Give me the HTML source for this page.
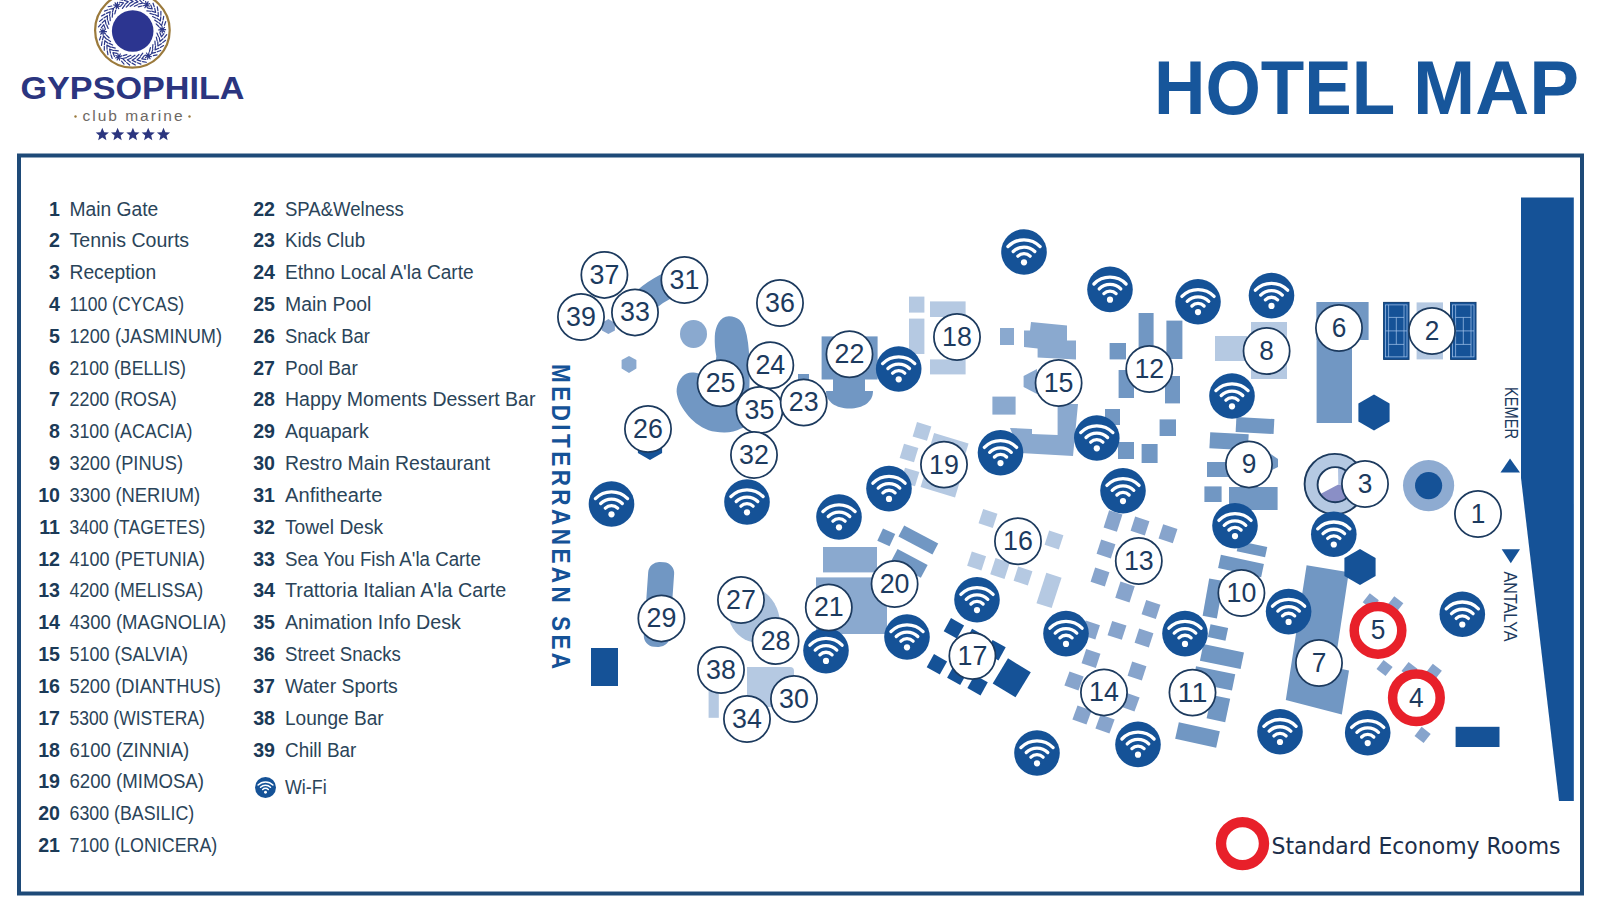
<!DOCTYPE html>
<html lang="en"><head><meta charset="utf-8"><title>Hotel Map - Gypsophila Club Marine</title>
<style>
html,body{margin:0;padding:0;background:#fff;}
body{width:1600px;height:900px;overflow:hidden;position:relative;font-family:"Liberation Sans",sans-serif;}
svg{position:absolute;left:0;top:0;display:block;}
text{font-family:"Liberation Sans",sans-serif;}
.num{font-weight:700;fill:#1b3a57;font-size:19.6px;text-anchor:end;}
.lbl{fill:#2a4459;font-size:19.6px;}
.cn{fill:#1c3a5e;font-size:28.5px;text-anchor:middle;}
</style></head><body>
<svg width="1600" height="900" viewBox="0 0 1600 900">

<defs>
<g id="wifi"><circle r="22.8" fill="#155297"/>
<g fill="none" stroke="#fff" stroke-width="3.3" stroke-linecap="round">
<path d="M-16.1,-5.4 A22.5,22.5 0 0 1 16.1,-5.4"/>
<path d="M-10.8,-0.5 A15.3,15.3 0 0 1 10.8,-0.5"/>
<path d="M-6.1,4.2 A8.6,8.6 0 0 1 6.1,4.2"/>
</g><circle cx="0" cy="10.3" r="3.1" fill="#fff"/></g>
<path id="star" d="M0,-6.7 L1.9,-2.2 6.6,-2 3,1.1 4.1,5.7 0,3.1 -4.1,5.7 -3,1.1 -6.6,-2 -1.9,-2.2Z"/>
</defs>
<g id="logo">
<circle cx="132.4" cy="30.3" r="37.3" fill="#fff" stroke="#9b7a3c" stroke-width="2.2"/>
<g stroke="#2b3788" stroke-width="1.2" fill="none" stroke-linecap="round" stroke-linejoin="round"><g transform="rotate(28.0 132.6 30.8) translate(132.6 1.2)"><path d="M-3.2,0 H3.2 M0,-3.4 V3.4 M-2.3,-2.4 L2.3,2.4 M-2.3,2.4 L2.3,-2.4" stroke-width="1.2"/></g><g transform="rotate(39.0 132.6 30.8) translate(132.6 1.4)"><path d="M-2.1,-2.0 L1.5,0 L-2.1,2.0 M-1.5,-4.9 L1.7,-2.9 M-1.5,4.9 L1.7,2.9"/></g><g transform="rotate(48.5 132.6 30.8) translate(132.6 1.4)"><path d="M-2.1,-2.0 L1.5,0 L-2.1,2.0 M-1.5,-4.9 L1.7,-2.9 M-1.5,4.9 L1.7,2.9"/></g><g transform="rotate(58.0 132.6 30.8) translate(132.6 1.4)"><path d="M-2.1,-2.0 L1.5,0 L-2.1,2.0 M-1.5,-4.9 L1.7,-2.9 M-1.5,4.9 L1.7,2.9"/></g><g transform="rotate(67.5 132.6 30.8) translate(132.6 1.4)"><path d="M-2.1,-2.0 L1.5,0 L-2.1,2.0 M-1.5,-4.9 L1.7,-2.9 M-1.5,4.9 L1.7,2.9"/></g><g transform="rotate(77.0 132.6 30.8) translate(132.6 1.4)"><path d="M-2.1,-2.0 L1.5,0 L-2.1,2.0 M-1.5,-4.9 L1.7,-2.9 M-1.5,4.9 L1.7,2.9"/></g><g transform="rotate(88.0 132.6 30.8) translate(132.6 1.2)"><path d="M-3.2,0 H3.2 M0,-3.4 V3.4 M-2.3,-2.4 L2.3,2.4 M-2.3,2.4 L2.3,-2.4" stroke-width="1.2"/></g><g transform="rotate(99.0 132.6 30.8) translate(132.6 1.4)"><path d="M-2.1,-2.0 L1.5,0 L-2.1,2.0 M-1.5,-4.9 L1.7,-2.9 M-1.5,4.9 L1.7,2.9"/></g><g transform="rotate(108.5 132.6 30.8) translate(132.6 1.4)"><path d="M-2.1,-2.0 L1.5,0 L-2.1,2.0 M-1.5,-4.9 L1.7,-2.9 M-1.5,4.9 L1.7,2.9"/></g><g transform="rotate(118.0 132.6 30.8) translate(132.6 1.4)"><path d="M-2.1,-2.0 L1.5,0 L-2.1,2.0 M-1.5,-4.9 L1.7,-2.9 M-1.5,4.9 L1.7,2.9"/></g><g transform="rotate(127.5 132.6 30.8) translate(132.6 1.4)"><path d="M-2.1,-2.0 L1.5,0 L-2.1,2.0 M-1.5,-4.9 L1.7,-2.9 M-1.5,4.9 L1.7,2.9"/></g><g transform="rotate(137.0 132.6 30.8) translate(132.6 1.4)"><path d="M-2.1,-2.0 L1.5,0 L-2.1,2.0 M-1.5,-4.9 L1.7,-2.9 M-1.5,4.9 L1.7,2.9"/></g><g transform="rotate(148.0 132.6 30.8) translate(132.6 1.2)"><path d="M-3.2,0 H3.2 M0,-3.4 V3.4 M-2.3,-2.4 L2.3,2.4 M-2.3,2.4 L2.3,-2.4" stroke-width="1.2"/></g><g transform="rotate(159.0 132.6 30.8) translate(132.6 1.4)"><path d="M-2.1,-2.0 L1.5,0 L-2.1,2.0 M-1.5,-4.9 L1.7,-2.9 M-1.5,4.9 L1.7,2.9"/></g><g transform="rotate(168.5 132.6 30.8) translate(132.6 1.4)"><path d="M-2.1,-2.0 L1.5,0 L-2.1,2.0 M-1.5,-4.9 L1.7,-2.9 M-1.5,4.9 L1.7,2.9"/></g><g transform="rotate(178.0 132.6 30.8) translate(132.6 1.4)"><path d="M-2.1,-2.0 L1.5,0 L-2.1,2.0 M-1.5,-4.9 L1.7,-2.9 M-1.5,4.9 L1.7,2.9"/></g><g transform="rotate(187.5 132.6 30.8) translate(132.6 1.4)"><path d="M-2.1,-2.0 L1.5,0 L-2.1,2.0 M-1.5,-4.9 L1.7,-2.9 M-1.5,4.9 L1.7,2.9"/></g><g transform="rotate(197.0 132.6 30.8) translate(132.6 1.4)"><path d="M-2.1,-2.0 L1.5,0 L-2.1,2.0 M-1.5,-4.9 L1.7,-2.9 M-1.5,4.9 L1.7,2.9"/></g><g transform="rotate(208.0 132.6 30.8) translate(132.6 1.2)"><path d="M-3.2,0 H3.2 M0,-3.4 V3.4 M-2.3,-2.4 L2.3,2.4 M-2.3,2.4 L2.3,-2.4" stroke-width="1.2"/></g><g transform="rotate(219.0 132.6 30.8) translate(132.6 1.4)"><path d="M-2.1,-2.0 L1.5,0 L-2.1,2.0 M-1.5,-4.9 L1.7,-2.9 M-1.5,4.9 L1.7,2.9"/></g><g transform="rotate(228.5 132.6 30.8) translate(132.6 1.4)"><path d="M-2.1,-2.0 L1.5,0 L-2.1,2.0 M-1.5,-4.9 L1.7,-2.9 M-1.5,4.9 L1.7,2.9"/></g><g transform="rotate(238.0 132.6 30.8) translate(132.6 1.4)"><path d="M-2.1,-2.0 L1.5,0 L-2.1,2.0 M-1.5,-4.9 L1.7,-2.9 M-1.5,4.9 L1.7,2.9"/></g><g transform="rotate(247.5 132.6 30.8) translate(132.6 1.4)"><path d="M-2.1,-2.0 L1.5,0 L-2.1,2.0 M-1.5,-4.9 L1.7,-2.9 M-1.5,4.9 L1.7,2.9"/></g><g transform="rotate(257.0 132.6 30.8) translate(132.6 1.4)"><path d="M-2.1,-2.0 L1.5,0 L-2.1,2.0 M-1.5,-4.9 L1.7,-2.9 M-1.5,4.9 L1.7,2.9"/></g><g transform="rotate(268.0 132.6 30.8) translate(132.6 1.2)"><path d="M-3.2,0 H3.2 M0,-3.4 V3.4 M-2.3,-2.4 L2.3,2.4 M-2.3,2.4 L2.3,-2.4" stroke-width="1.2"/></g><g transform="rotate(279.0 132.6 30.8) translate(132.6 1.4)"><path d="M-2.1,-2.0 L1.5,0 L-2.1,2.0 M-1.5,-4.9 L1.7,-2.9 M-1.5,4.9 L1.7,2.9"/></g><g transform="rotate(288.5 132.6 30.8) translate(132.6 1.4)"><path d="M-2.1,-2.0 L1.5,0 L-2.1,2.0 M-1.5,-4.9 L1.7,-2.9 M-1.5,4.9 L1.7,2.9"/></g><g transform="rotate(298.0 132.6 30.8) translate(132.6 1.4)"><path d="M-2.1,-2.0 L1.5,0 L-2.1,2.0 M-1.5,-4.9 L1.7,-2.9 M-1.5,4.9 L1.7,2.9"/></g><g transform="rotate(307.5 132.6 30.8) translate(132.6 1.4)"><path d="M-2.1,-2.0 L1.5,0 L-2.1,2.0 M-1.5,-4.9 L1.7,-2.9 M-1.5,4.9 L1.7,2.9"/></g><g transform="rotate(317.0 132.6 30.8) translate(132.6 1.4)"><path d="M-2.1,-2.0 L1.5,0 L-2.1,2.0 M-1.5,-4.9 L1.7,-2.9 M-1.5,4.9 L1.7,2.9"/></g><g transform="rotate(328.0 132.6 30.8) translate(132.6 1.2)"><path d="M-3.2,0 H3.2 M0,-3.4 V3.4 M-2.3,-2.4 L2.3,2.4 M-2.3,2.4 L2.3,-2.4" stroke-width="1.2"/></g><g transform="rotate(339.0 132.6 30.8) translate(132.6 1.4)"><path d="M-2.1,-2.0 L1.5,0 L-2.1,2.0 M-1.5,-4.9 L1.7,-2.9 M-1.5,4.9 L1.7,2.9"/></g><g transform="rotate(348.5 132.6 30.8) translate(132.6 1.4)"><path d="M-2.1,-2.0 L1.5,0 L-2.1,2.0 M-1.5,-4.9 L1.7,-2.9 M-1.5,4.9 L1.7,2.9"/></g><g transform="rotate(358.0 132.6 30.8) translate(132.6 1.4)"><path d="M-2.1,-2.0 L1.5,0 L-2.1,2.0 M-1.5,-4.9 L1.7,-2.9 M-1.5,4.9 L1.7,2.9"/></g><g transform="rotate(367.5 132.6 30.8) translate(132.6 1.4)"><path d="M-2.1,-2.0 L1.5,0 L-2.1,2.0 M-1.5,-4.9 L1.7,-2.9 M-1.5,4.9 L1.7,2.9"/></g><g transform="rotate(377.0 132.6 30.8) translate(132.6 1.4)"><path d="M-2.1,-2.0 L1.5,0 L-2.1,2.0 M-1.5,-4.9 L1.7,-2.9 M-1.5,4.9 L1.7,2.9"/></g></g>
<circle cx="132.7" cy="31" r="20.8" fill="#2c3590"/>
<text x="132.5" y="98.8" text-anchor="middle" font-size="31" font-weight="700" fill="#2b357f" textLength="224" lengthAdjust="spacingAndGlyphs">GYPSOPHILA</text>
<text x="132.5" y="121" text-anchor="middle" font-size="15.5" fill="#6d6863" textLength="100" lengthAdjust="spacing">club marine</text>
<circle cx="75.5" cy="116.5" r="1.2" fill="#9b7a3c"/><circle cx="189.5" cy="116.5" r="1.2" fill="#9b7a3c"/>
<use href="#star" x="102.3" y="134.5" fill="#2b357f"/>
<use href="#star" x="117.6" y="134.5" fill="#2b357f"/>
<use href="#star" x="132.9" y="134.5" fill="#2b357f"/>
<use href="#star" x="148.2" y="134.5" fill="#2b357f"/>
<use href="#star" x="163.5" y="134.5" fill="#2b357f"/>
</g>
<text y="114" font-size="76.5" font-weight="700" fill="#17569b"><tspan x="1154" textLength="240" lengthAdjust="spacingAndGlyphs">HOTEL</tspan> <tspan x="1413" textLength="166" lengthAdjust="spacingAndGlyphs">MAP</tspan></text>
<rect x="19" y="155.5" width="1563" height="738" fill="none" stroke="#1e4a78" stroke-width="4"/>
<g id="legend">
<text class="num" x="60" y="215.5">1</text><text class="lbl" x="69.5" y="215.5" textLength="88.8" lengthAdjust="spacingAndGlyphs">Main Gate</text>
<text class="num" x="60" y="247.3">2</text><text class="lbl" x="69.5" y="247.3" textLength="119.6" lengthAdjust="spacingAndGlyphs">Tennis Courts</text>
<text class="num" x="60" y="279.1">3</text><text class="lbl" x="69.5" y="279.1" textLength="86.7" lengthAdjust="spacingAndGlyphs">Reception</text>
<text class="num" x="60" y="311.0">4</text><text class="lbl" x="69.5" y="311.0" textLength="114.7" lengthAdjust="spacingAndGlyphs">1100 (CYCAS)</text>
<text class="num" x="60" y="342.8">5</text><text class="lbl" x="69.5" y="342.8" textLength="152.5" lengthAdjust="spacingAndGlyphs">1200 (JASMINUM)</text>
<text class="num" x="60" y="374.6">6</text><text class="lbl" x="69.5" y="374.6" textLength="116.4" lengthAdjust="spacingAndGlyphs">2100 (BELLIS)</text>
<text class="num" x="60" y="406.4">7</text><text class="lbl" x="69.5" y="406.4" textLength="107.3" lengthAdjust="spacingAndGlyphs">2200 (ROSA)</text>
<text class="num" x="60" y="438.3">8</text><text class="lbl" x="69.5" y="438.3" textLength="122.9" lengthAdjust="spacingAndGlyphs">3100 (ACACIA)</text>
<text class="num" x="60" y="470.1">9</text><text class="lbl" x="69.5" y="470.1" textLength="113.5" lengthAdjust="spacingAndGlyphs">3200 (PINUS)</text>
<text class="num" x="60" y="501.9">10</text><text class="lbl" x="69.5" y="501.9" textLength="130.7" lengthAdjust="spacingAndGlyphs">3300 (NERIUM)</text>
<text class="num" x="60" y="533.8">11</text><text class="lbl" x="69.5" y="533.8" textLength="135.8" lengthAdjust="spacingAndGlyphs">3400 (TAGETES)</text>
<text class="num" x="60" y="565.6">12</text><text class="lbl" x="69.5" y="565.6" textLength="135.4" lengthAdjust="spacingAndGlyphs">4100 (PETUNIA)</text>
<text class="num" x="60" y="597.4">13</text><text class="lbl" x="69.5" y="597.4" textLength="133.6" lengthAdjust="spacingAndGlyphs">4200 (MELISSA)</text>
<text class="num" x="60" y="629.2">14</text><text class="lbl" x="69.5" y="629.2" textLength="156.7" lengthAdjust="spacingAndGlyphs">4300 (MAGNOLIA)</text>
<text class="num" x="60" y="661.0">15</text><text class="lbl" x="69.5" y="661.0" textLength="118.5" lengthAdjust="spacingAndGlyphs">5100 (SALVIA)</text>
<text class="num" x="60" y="692.9">16</text><text class="lbl" x="69.5" y="692.9" textLength="151.4" lengthAdjust="spacingAndGlyphs">5200 (DIANTHUS)</text>
<text class="num" x="60" y="724.7">17</text><text class="lbl" x="69.5" y="724.7" textLength="135.4" lengthAdjust="spacingAndGlyphs">5300 (WISTERA)</text>
<text class="num" x="60" y="756.5">18</text><text class="lbl" x="69.5" y="756.5" textLength="119.8" lengthAdjust="spacingAndGlyphs">6100 (ZINNIA)</text>
<text class="num" x="60" y="788.4">19</text><text class="lbl" x="69.5" y="788.4" textLength="134.5" lengthAdjust="spacingAndGlyphs">6200 (MIMOSA)</text>
<text class="num" x="60" y="820.2">20</text><text class="lbl" x="69.5" y="820.2" textLength="124.7" lengthAdjust="spacingAndGlyphs">6300 (BASILIC)</text>
<text class="num" x="60" y="852.0">21</text><text class="lbl" x="69.5" y="852.0" textLength="147.8" lengthAdjust="spacingAndGlyphs">7100 (LONICERA)</text>
<text class="num" x="275" y="215.5">22</text><text class="lbl" x="285" y="215.5" textLength="118.8" lengthAdjust="spacingAndGlyphs">SPA&amp;Welness</text>
<text class="num" x="275" y="247.3">23</text><text class="lbl" x="285" y="247.3" textLength="80.1" lengthAdjust="spacingAndGlyphs">Kids Club</text>
<text class="num" x="275" y="279.1">24</text><text class="lbl" x="285" y="279.1" textLength="188.7" lengthAdjust="spacingAndGlyphs">Ethno Local A'la Carte</text>
<text class="num" x="275" y="311.0">25</text><text class="lbl" x="285" y="311.0" textLength="86.3" lengthAdjust="spacingAndGlyphs">Main Pool</text>
<text class="num" x="275" y="342.8">26</text><text class="lbl" x="285" y="342.8" textLength="85.0" lengthAdjust="spacingAndGlyphs">Snack Bar</text>
<text class="num" x="275" y="374.6">27</text><text class="lbl" x="285" y="374.6" textLength="72.7" lengthAdjust="spacingAndGlyphs">Pool Bar</text>
<text class="num" x="275" y="406.4">28</text><text class="lbl" x="285" y="406.4" textLength="250.4" lengthAdjust="spacingAndGlyphs">Happy Moments Dessert Bar</text>
<text class="num" x="275" y="438.3">29</text><text class="lbl" x="285" y="438.3" textLength="83.8" lengthAdjust="spacingAndGlyphs">Aquapark</text>
<text class="num" x="275" y="470.1">30</text><text class="lbl" x="285" y="470.1" textLength="205.1" lengthAdjust="spacingAndGlyphs">Restro Main Restaurant</text>
<text class="num" x="275" y="501.9">31</text><text class="lbl" x="285" y="501.9" textLength="97.4" lengthAdjust="spacingAndGlyphs">Anfithearte</text>
<text class="num" x="275" y="533.8">32</text><text class="lbl" x="285" y="533.8" textLength="98.1" lengthAdjust="spacingAndGlyphs">Towel Desk</text>
<text class="num" x="275" y="565.6">33</text><text class="lbl" x="285" y="565.6" textLength="195.9" lengthAdjust="spacingAndGlyphs">Sea You Fish A'la Carte</text>
<text class="num" x="275" y="597.4">34</text><text class="lbl" x="285" y="597.4" textLength="221.2" lengthAdjust="spacingAndGlyphs">Trattoria Italian A'la Carte</text>
<text class="num" x="275" y="629.2">35</text><text class="lbl" x="285" y="629.2" textLength="175.9" lengthAdjust="spacingAndGlyphs">Animation Info Desk</text>
<text class="num" x="275" y="661.0">36</text><text class="lbl" x="285" y="661.0" textLength="115.9" lengthAdjust="spacingAndGlyphs">Street Snacks</text>
<text class="num" x="275" y="692.9">37</text><text class="lbl" x="285" y="692.9" textLength="112.8" lengthAdjust="spacingAndGlyphs">Water Sports</text>
<text class="num" x="275" y="724.7">38</text><text class="lbl" x="285" y="724.7" textLength="98.6" lengthAdjust="spacingAndGlyphs">Lounge Bar</text>
<text class="num" x="275" y="756.5">39</text><text class="lbl" x="285" y="756.5" textLength="71.4" lengthAdjust="spacingAndGlyphs">Chill Bar</text>
<use href="#wifi" transform="translate(265.5,787.5) scale(0.46)"/>
<text class="lbl" x="285" y="794" textLength="41.7" lengthAdjust="spacingAndGlyphs">Wi-Fi</text>
</g>
<g id="map">
<path d="M638,308 Q652,291 680,280" fill="none" stroke="#7197c3" stroke-width="26" stroke-linecap="butt"/>
<polygon points="608.4,319.1 601.9,322.9 601.9,330.4 608.4,334.1 614.9,330.4 614.9,322.9" fill="#87a4cc"/>
<polygon points="629.0,355.9 621.6,360.1 621.6,368.6 629.0,372.9 636.4,368.6 636.4,360.1" fill="#8aa9cf"/>
<ellipse cx="693.5" cy="334" rx="13.5" ry="14" fill="#8aa9cf"/>
<path d="M728.8,316.2 C737,316 742.5,321 744.8,328 C747.8,337 749,348 749.3,360 C749.6,372 749.8,380 749.3,390 L749,415 C748,424 744,428 741,428.5 C736,431.5 730,432.6 724,432.5 C718,432.3 713,431.5 708.5,430.2 C704,428.5 700,426 696,423.2 C692,420 689,417 686.8,414 C683,409 680.5,405 679,401.4 C677,396 676.3,392 676.7,389 C677,386 677.8,383.5 679,381.2 C681,377.5 683.5,375 686.8,373.4 C690,372 695,372.3 698.4,373.4 L714,381 L716.3,356.3 C715,350 714.5,343 714.8,336.1 C715.3,326 720,316.5 728.8,316.2 Z" fill="#7197c3"/>
<rect x="821.6" y="336.4" width="56.0" height="43.1" fill="#7197c3"/>
<rect x="833.0" y="379.0" width="32.0" height="13.0" fill="#7197c3"/>
<path d="M826,391 L873,391 C873,402 863,408.5 849.5,408.5 C836,408.5 826,402 826,391 Z" fill="#7197c3"/>
<rect x="798.0" y="374.0" width="11.0" height="6.5" fill="#7197c3"/>
<polygon points="650.0,432.0 637.9,439.0 637.9,453.0 650.0,460.0 662.1,453.0 662.1,439.0" fill="#155297"/>
<rect x="591.0" y="648.0" width="27.0" height="38.0" fill="#155297"/>
<rect x="646" y="562" width="26" height="85" rx="11" ry="11" fill="#7197c3" transform="rotate(4 659 604)"/>
<path d="M758,588 C770,594 779,606 780,622 L776,645 L752,642 C742,640 733,632 729,620 Z" fill="#a9c0dc"/>
<path d="M747,667 L790,667 Q794,667 794,671 L794,707 L747,707 Z" fill="#b5c9e2"/>
<rect x="708.6" y="690.0" width="10.2" height="27.8" fill="#b5c9e2"/>
<rect x="823.0" y="547.0" width="54.0" height="25.4" fill="#8aa9cf"/>
<rect x="816.0" y="577.4" width="71.0" height="56.6" fill="#8aa9cf"/>
<rect x="879.5" y="530.6" width="13.5" height="13.5" fill="#7197c3" transform="rotate(25.0 886.2 537.4)"/>
<rect x="899.1" y="533.9" width="38.5" height="12.3" fill="#7197c3" transform="rotate(27.9 918.4 540.0)"/>
<rect x="892.2" y="556.1" width="34.0" height="14.5" fill="#7197c3" transform="rotate(27.9 909.2 563.4)"/>
<rect x="909.0" y="296.6" width="15.4" height="16.0" fill="#b5c9e2"/>
<rect x="930.0" y="301.4" width="35.6" height="15.6" fill="#b5c9e2"/>
<rect x="909.0" y="318.6" width="15.4" height="35.4" fill="#b5c9e2"/>
<rect x="930.0" y="359.4" width="35.6" height="15.0" fill="#b5c9e2"/>
<rect x="1000.0" y="328.0" width="14.0" height="17.0" fill="#8aa9cf"/>
<polygon points="1031.0,322.0 1067.0,325.6 1067.0,340.4 1076.0,340.4 1076.0,359.4 1037.6,357.4 1037.6,348.6 1024.0,347.0 1024.0,330.6 1030.0,330.6" fill="#8aa9cf"/>
<polygon points="1037.0,369.0 1023.6,376.0 1023.6,387.0 1037.0,394.0" fill="#8aa9cf"/>
<rect x="992.4" y="396.6" width="23.2" height="18.0" fill="#8aa9cf"/>
<polygon points="1057.6,404.0 1078.0,404.0 1073.0,456.0 1020.0,453.0 1010.0,428.0 1032.0,429.0 1032.0,434.0 1057.6,435.0" fill="#8aa9cf"/>
<rect x="1138.6" y="313.0" width="15.0" height="36.0" fill="#7197c3"/>
<rect x="1166.4" y="320.6" width="16.0" height="38.4" fill="#7197c3"/>
<rect x="1109.6" y="343.0" width="16.4" height="16.4" fill="#7197c3"/>
<rect x="1118.6" y="370.0" width="15.4" height="28.0" fill="#7197c3"/>
<rect x="1165.0" y="376.0" width="15.0" height="27.4" fill="#7197c3"/>
<rect x="1105.0" y="409.0" width="15.0" height="16.0" fill="#7197c3"/>
<rect x="1159.6" y="419.4" width="16.4" height="16.6" fill="#7197c3"/>
<rect x="1118.0" y="442.0" width="16.0" height="17.0" fill="#7197c3"/>
<rect x="1141.6" y="444.0" width="16.0" height="19.0" fill="#7197c3"/>
<rect x="1215.0" y="336.0" width="32.0" height="25.0" fill="#b5c9e2"/>
<rect x="1251.0" y="322.0" width="36.0" height="57.0" fill="#b5c9e2"/>
<rect x="914.5" y="423.9" width="15.0" height="15.0" fill="#b5c9e2" transform="rotate(17.0 922.0 431.4)"/>
<rect x="901.5" y="445.5" width="15.0" height="15.0" fill="#b5c9e2" transform="rotate(17.0 909.0 453.0)"/>
<rect x="931.0" y="438.0" width="36.0" height="16.0" fill="#b5c9e2" transform="rotate(17.0 949.0 446.0)"/>
<rect x="902.5" y="469.5" width="15.0" height="15.0" fill="#b5c9e2" transform="rotate(17.0 910.0 477.0)"/>
<rect x="922.0" y="477.5" width="36.0" height="15.0" fill="#b5c9e2" transform="rotate(17.0 940.0 485.0)"/>
<rect x="980.5" y="511.0" width="15.0" height="15.0" fill="#b5c9e2" transform="rotate(18.0 988.0 518.5)"/>
<rect x="1046.5" y="532.5" width="15.0" height="15.0" fill="#b5c9e2" transform="rotate(18.0 1054.0 540.0)"/>
<rect x="969.1" y="553.5" width="15.0" height="15.0" fill="#b5c9e2" transform="rotate(18.0 976.6 561.0)"/>
<rect x="992.5" y="560.0" width="15.0" height="17.0" fill="#b5c9e2" transform="rotate(18.0 1000.0 568.5)"/>
<rect x="1015.5" y="568.5" width="15.0" height="15.0" fill="#b5c9e2" transform="rotate(18.0 1023.0 576.0)"/>
<rect x="1041.0" y="574.4" width="16.0" height="32.0" fill="#b5c9e2" transform="rotate(18.0 1049.0 590.4)"/>
<rect x="946.4" y="620.8" width="15.0" height="15.0" fill="#155297" transform="rotate(29.0 953.9 628.3)"/>
<rect x="967.5" y="631.5" width="15.0" height="15.0" fill="#155297" transform="rotate(29.0 975.0 639.0)"/>
<rect x="988.0" y="642.7" width="15.0" height="15.0" fill="#155297" transform="rotate(29.0 995.5 650.2)"/>
<rect x="929.4" y="656.8" width="15.0" height="15.0" fill="#155297" transform="rotate(29.0 936.9 664.3)"/>
<rect x="949.8" y="667.4" width="15.0" height="15.0" fill="#155297" transform="rotate(29.0 957.3 674.9)"/>
<rect x="970.1" y="677.7" width="15.0" height="15.0" fill="#155297" transform="rotate(29.0 977.6 685.2)"/>
<rect x="998.4" y="663.1" width="26.7" height="29.4" fill="#155297" transform="rotate(31.4 1011.7 677.8)"/>
<rect x="1106.0" y="512.0" width="14.0" height="18.0" fill="#87a4cc" transform="rotate(18.0 1113.0 521.0)"/>
<rect x="1132.5" y="518.5" width="15.0" height="15.0" fill="#87a4cc" transform="rotate(18.0 1140.0 526.0)"/>
<rect x="1160.5" y="526.3" width="15.0" height="15.0" fill="#87a4cc" transform="rotate(18.0 1168.0 533.8)"/>
<rect x="1098.5" y="541.5" width="15.0" height="15.0" fill="#87a4cc" transform="rotate(18.0 1106.0 549.0)"/>
<rect x="1092.5" y="569.5" width="15.0" height="15.0" fill="#87a4cc" transform="rotate(18.0 1100.0 577.0)"/>
<rect x="1117.5" y="583.5" width="15.0" height="17.0" fill="#87a4cc" transform="rotate(18.0 1125.0 592.0)"/>
<rect x="1143.5" y="602.0" width="15.0" height="15.0" fill="#87a4cc" transform="rotate(18.0 1151.0 609.5)"/>
<rect x="1109.5" y="622.9" width="15.0" height="15.0" fill="#87a4cc" transform="rotate(18.0 1117.0 630.4)"/>
<rect x="1136.5" y="630.5" width="15.0" height="15.0" fill="#87a4cc" transform="rotate(18.0 1144.0 638.0)"/>
<rect x="1083.0" y="622.5" width="15.0" height="15.0" fill="#87a4cc" transform="rotate(18.0 1090.5 630.0)"/>
<rect x="1083.5" y="651.0" width="15.0" height="15.0" fill="#87a4cc" transform="rotate(18.0 1091.0 658.5)"/>
<rect x="1129.5" y="663.5" width="15.0" height="15.0" fill="#87a4cc" transform="rotate(18.0 1137.0 671.0)"/>
<rect x="1066.5" y="673.5" width="15.0" height="15.0" fill="#87a4cc" transform="rotate(20.0 1074.0 681.0)"/>
<rect x="1122.5" y="694.5" width="15.0" height="15.0" fill="#87a4cc" transform="rotate(20.0 1130.0 702.0)"/>
<rect x="1074.5" y="707.5" width="15.0" height="15.0" fill="#87a4cc" transform="rotate(20.0 1082.0 715.0)"/>
<rect x="1097.5" y="716.5" width="15.0" height="15.0" fill="#87a4cc" transform="rotate(20.0 1105.0 724.0)"/>
<rect x="1236.0" y="418.0" width="38.0" height="15.0" fill="#7197c3" transform="rotate(3.0 1255.0 425.5)"/>
<rect x="1209.8" y="433.3" width="38.5" height="16.0" fill="#7197c3" transform="rotate(3.0 1229.0 441.3)"/>
<rect x="1207.0" y="462.0" width="25.0" height="15.0" fill="#7197c3"/>
<polygon points="1262.0,452.5 1270.0,453.5 1278.0,459.0 1278.0,467.0 1272.0,470.0 1262.0,470.0" fill="#7197c3"/>
<rect x="1204.4" y="486.4" width="17.2" height="15.6" fill="#7197c3"/>
<rect x="1229.0" y="487.0" width="48.6" height="23.0" fill="#7197c3"/>
<rect x="1237.5" y="543.8" width="29.0" height="10.5" fill="#7197c3" transform="rotate(12.0 1252.0 549.0)"/>
<rect x="1219.0" y="559.2" width="44.0" height="13.5" fill="#7197c3" transform="rotate(12.0 1241.0 566.0)"/>
<rect x="1205.8" y="579.4" width="14.5" height="38.0" fill="#7197c3" transform="rotate(10.0 1213.0 598.4)"/>
<rect x="1209.0" y="625.9" width="18.0" height="13.0" fill="#7197c3" transform="rotate(12.0 1218.0 632.4)"/>
<rect x="1201.2" y="648.1" width="41.5" height="17.0" fill="#7197c3" transform="rotate(11.5 1222.0 656.6)"/>
<rect x="1194.0" y="670.1" width="40.0" height="16.5" fill="#7197c3" transform="rotate(11.5 1214.0 678.4)"/>
<rect x="1208.9" y="696.6" width="19.0" height="24.0" fill="#7197c3" transform="rotate(12.0 1218.4 708.6)"/>
<rect x="1176.5" y="726.5" width="42.0" height="17.0" fill="#7197c3" transform="rotate(12.5 1197.5 735.0)"/>
<polygon points="1306.6,565.3 1348.8,572.3 1334.4,667.6 1349.0,670.4 1341.8,714.4 1285.8,700.0" fill="#7197c3"/>
<rect x="1316.6" y="302.0" width="52.0" height="38.0" fill="#7197c3"/>
<rect x="1316.6" y="302.0" width="35.4" height="121.0" fill="#7197c3"/>
<polygon points="1374.0,394.4 1358.4,403.4 1358.4,421.4 1374.0,430.4 1389.6,421.4 1389.6,403.4" fill="#155297"/>
<polygon points="1360.0,549.0 1344.4,558.0 1344.4,576.0 1360.0,585.0 1375.6,576.0 1375.6,558.0" fill="#155297"/>
<g><rect x="1383.6" y="302.4" width="25.4" height="57.0" fill="#155297" stroke="#123f73" stroke-width="1"/><rect x="1385.6" y="304.9" width="21.4" height="52.0" stroke="#a9c7ee" stroke-width="0.7" fill="none"/><path d="M1388.6,304.9 v52.0 M1404.0,304.9 v52.0 M1385.6,330.9 h21.4 M1388.6,317.4 h15.4 M1388.6,344.4 h15.4 M1396.3,317.4 v27.0" stroke="#a9c7ee" stroke-width="0.7" fill="none"/></g>
<g><rect x="1450.6" y="302.4" width="25.4" height="57.0" fill="#155297" stroke="#123f73" stroke-width="1"/><rect x="1452.6" y="304.9" width="21.4" height="52.0" stroke="#a9c7ee" stroke-width="0.7" fill="none"/><path d="M1455.6,304.9 v52.0 M1471.0,304.9 v52.0 M1452.6,330.9 h21.4 M1455.6,317.4 h15.4 M1455.6,344.4 h15.4 M1463.3,317.4 v27.0" stroke="#a9c7ee" stroke-width="0.7" fill="none"/></g>
<rect x="1416.6" y="302.4" width="26.4" height="57.0" fill="#b5c9e2"/>
<circle cx="1334.8" cy="484.1" r="30.2" fill="#b5c9e2" stroke="#1c3a5e" stroke-width="1.9"/>
<circle cx="1335.2" cy="484.7" r="17.6" fill="#fff"/>
<path d="M1338.3,484.6 L1320.34,494.12 A17.6,17.6 0 0 0 1352.53,487.76 Z" fill="#8a8fc6"/>
<path d="M1338.3,484.6 L1338,467.32 A17.6,17.6 0 0 1 1352.53,487.76 Z" fill="#b0c3e2"/>
<circle cx="1335.2" cy="484.7" r="17.6" fill="none" stroke="#1c3a5e" stroke-width="1.9"/>
<circle cx="1428.6" cy="485.6" r="25.6" fill="#8eabd1"/>
<circle cx="1428.6" cy="485.6" r="13.6" fill="#155297"/>
<rect x="1365.0" y="595.5" width="11.5" height="11.5" fill="#87a4cc" transform="rotate(38.0 1370.7 601.3)"/>
<rect x="1389.5" y="598.5" width="11.5" height="11.5" fill="#87a4cc" transform="rotate(38.0 1395.3 604.3)"/>
<rect x="1378.8" y="662.2" width="11.5" height="11.5" fill="#87a4cc" transform="rotate(38.0 1384.5 668.0)"/>
<rect x="1403.8" y="664.2" width="11.5" height="11.5" fill="#87a4cc" transform="rotate(38.0 1409.5 670.0)"/>
<rect x="1428.0" y="666.0" width="11.5" height="11.5" fill="#87a4cc" transform="rotate(38.0 1433.8 671.8)"/>
<rect x="1416.8" y="729.2" width="11.5" height="11.5" fill="#87a4cc" transform="rotate(38.0 1422.6 735.0)"/>
<rect x="1455.6" y="726.8" width="43.9" height="20.2" fill="#155297"/>
<polygon points="1521.0,197.5 1573.8,197.5 1573.8,801.0 1559.0,801.0 1521.0,478.0" fill="#155297"/>
<polygon points="1510.0,458.5 1500.5,472.5 1520.0,472.5" fill="#155297"/>
<polygon points="1501.7,549.3 1520.0,549.3 1510.8,563.3" fill="#155297"/>
<g id="wifi-points">
<use href="#wifi" x="1024.0" y="252.0"/>
<use href="#wifi" x="1110.0" y="289.4"/>
<use href="#wifi" x="1198.0" y="301.8"/>
<use href="#wifi" x="1271.5" y="295.6"/>
<use href="#wifi" x="898.7" y="369.0"/>
<use href="#wifi" x="1232.0" y="396.0"/>
<use href="#wifi" x="1000.5" y="452.8"/>
<use href="#wifi" x="1096.8" y="438.0"/>
<use href="#wifi" x="889.0" y="488.6"/>
<use href="#wifi" x="1123.0" y="490.8"/>
<use href="#wifi" x="611.5" y="504.0"/>
<use href="#wifi" x="747.0" y="502.0"/>
<use href="#wifi" x="839.0" y="517.0"/>
<use href="#wifi" x="1235.0" y="525.8"/>
<use href="#wifi" x="1333.8" y="534.2"/>
<use href="#wifi" x="977.0" y="599.8"/>
<use href="#wifi" x="1288.6" y="611.6"/>
<use href="#wifi" x="1462.3" y="614.2"/>
<use href="#wifi" x="907.0" y="637.0"/>
<use href="#wifi" x="1066.0" y="633.6"/>
<use href="#wifi" x="1185.0" y="633.6"/>
<use href="#wifi" x="826.0" y="650.6"/>
<use href="#wifi" x="1037.0" y="753.0"/>
<use href="#wifi" x="1138.0" y="744.4"/>
<use href="#wifi" x="1280.0" y="731.7"/>
<use href="#wifi" x="1367.7" y="732.8"/>
</g>
<g id="numbers">
<circle cx="604.4" cy="274.9" r="23.1" fill="#fff" stroke="#1c3a5e" stroke-width="1.75"/><text class="cn" x="604.4" y="283.8" textLength="29.8" lengthAdjust="spacingAndGlyphs">37</text>
<circle cx="684.4" cy="280.0" r="23.1" fill="#fff" stroke="#1c3a5e" stroke-width="1.75"/><text class="cn" x="684.4" y="288.9" textLength="29.8" lengthAdjust="spacingAndGlyphs">31</text>
<circle cx="581.0" cy="317.0" r="23.1" fill="#fff" stroke="#1c3a5e" stroke-width="1.75"/><text class="cn" x="581.0" y="325.9" textLength="29.8" lengthAdjust="spacingAndGlyphs">39</text>
<circle cx="635.0" cy="312.4" r="23.1" fill="#fff" stroke="#1c3a5e" stroke-width="1.75"/><text class="cn" x="635.0" y="321.3" textLength="29.8" lengthAdjust="spacingAndGlyphs">33</text>
<circle cx="780.0" cy="303.0" r="23.1" fill="#fff" stroke="#1c3a5e" stroke-width="1.75"/><text class="cn" x="780.0" y="311.9" textLength="29.8" lengthAdjust="spacingAndGlyphs">36</text>
<circle cx="849.5" cy="354.2" r="23.1" fill="#fff" stroke="#1c3a5e" stroke-width="1.75"/><text class="cn" x="849.5" y="363.1" textLength="29.8" lengthAdjust="spacingAndGlyphs">22</text>
<circle cx="770.3" cy="365.2" r="23.1" fill="#fff" stroke="#1c3a5e" stroke-width="1.75"/><text class="cn" x="770.3" y="374.1" textLength="29.8" lengthAdjust="spacingAndGlyphs">24</text>
<circle cx="720.6" cy="383.2" r="23.1" fill="#fff" stroke="#1c3a5e" stroke-width="1.75"/><text class="cn" x="720.6" y="392.1" textLength="29.8" lengthAdjust="spacingAndGlyphs">25</text>
<circle cx="759.5" cy="410.0" r="23.1" fill="#fff" stroke="#1c3a5e" stroke-width="1.75"/><text class="cn" x="759.5" y="418.9" textLength="29.8" lengthAdjust="spacingAndGlyphs">35</text>
<circle cx="803.7" cy="402.5" r="23.1" fill="#fff" stroke="#1c3a5e" stroke-width="1.75"/><text class="cn" x="803.7" y="411.4" textLength="29.8" lengthAdjust="spacingAndGlyphs">23</text>
<circle cx="648.0" cy="429.0" r="23.1" fill="#fff" stroke="#1c3a5e" stroke-width="1.75"/><text class="cn" x="648.0" y="437.9" textLength="29.8" lengthAdjust="spacingAndGlyphs">26</text>
<circle cx="754.0" cy="455.0" r="23.1" fill="#fff" stroke="#1c3a5e" stroke-width="1.75"/><text class="cn" x="754.0" y="463.9" textLength="29.8" lengthAdjust="spacingAndGlyphs">32</text>
<circle cx="661.4" cy="618.4" r="23.1" fill="#fff" stroke="#1c3a5e" stroke-width="1.75"/><text class="cn" x="661.4" y="627.3" textLength="29.8" lengthAdjust="spacingAndGlyphs">29</text>
<circle cx="741.0" cy="600.0" r="23.1" fill="#fff" stroke="#1c3a5e" stroke-width="1.75"/><text class="cn" x="741.0" y="608.9" textLength="29.8" lengthAdjust="spacingAndGlyphs">27</text>
<circle cx="828.8" cy="607.5" r="23.1" fill="#fff" stroke="#1c3a5e" stroke-width="1.75"/><text class="cn" x="828.8" y="616.4" textLength="29.8" lengthAdjust="spacingAndGlyphs">21</text>
<circle cx="894.6" cy="584.0" r="23.1" fill="#fff" stroke="#1c3a5e" stroke-width="1.75"/><text class="cn" x="894.6" y="592.9" textLength="29.8" lengthAdjust="spacingAndGlyphs">20</text>
<circle cx="775.6" cy="641.0" r="23.1" fill="#fff" stroke="#1c3a5e" stroke-width="1.75"/><text class="cn" x="775.6" y="649.9" textLength="29.8" lengthAdjust="spacingAndGlyphs">28</text>
<circle cx="721.0" cy="670.0" r="23.1" fill="#fff" stroke="#1c3a5e" stroke-width="1.75"/><text class="cn" x="721.0" y="678.9" textLength="29.8" lengthAdjust="spacingAndGlyphs">38</text>
<circle cx="794.0" cy="699.0" r="23.1" fill="#fff" stroke="#1c3a5e" stroke-width="1.75"/><text class="cn" x="794.0" y="707.9" textLength="29.8" lengthAdjust="spacingAndGlyphs">30</text>
<circle cx="747.0" cy="719.0" r="23.1" fill="#fff" stroke="#1c3a5e" stroke-width="1.75"/><text class="cn" x="747.0" y="727.9" textLength="29.8" lengthAdjust="spacingAndGlyphs">34</text>
<circle cx="957.0" cy="337.0" r="23.1" fill="#fff" stroke="#1c3a5e" stroke-width="1.75"/><text class="cn" x="957.0" y="345.9" textLength="29.8" lengthAdjust="spacingAndGlyphs">18</text>
<circle cx="1058.6" cy="383.0" r="23.1" fill="#fff" stroke="#1c3a5e" stroke-width="1.75"/><text class="cn" x="1058.6" y="391.9" textLength="29.8" lengthAdjust="spacingAndGlyphs">15</text>
<circle cx="1149.3" cy="369.0" r="23.1" fill="#fff" stroke="#1c3a5e" stroke-width="1.75"/><text class="cn" x="1149.3" y="377.9" textLength="29.8" lengthAdjust="spacingAndGlyphs">12</text>
<circle cx="1266.6" cy="351.0" r="23.1" fill="#fff" stroke="#1c3a5e" stroke-width="1.75"/><text class="cn" x="1266.6" y="359.9" textLength="14.6" lengthAdjust="spacingAndGlyphs">8</text>
<circle cx="944.0" cy="464.6" r="23.1" fill="#fff" stroke="#1c3a5e" stroke-width="1.75"/><text class="cn" x="944.0" y="473.5" textLength="29.8" lengthAdjust="spacingAndGlyphs">19</text>
<circle cx="1249.0" cy="464.4" r="23.1" fill="#fff" stroke="#1c3a5e" stroke-width="1.75"/><text class="cn" x="1249.0" y="473.3" textLength="14.6" lengthAdjust="spacingAndGlyphs">9</text>
<circle cx="1018.0" cy="541.2" r="23.1" fill="#fff" stroke="#1c3a5e" stroke-width="1.75"/><text class="cn" x="1018.0" y="550.1" textLength="29.8" lengthAdjust="spacingAndGlyphs">16</text>
<circle cx="1138.8" cy="561.0" r="23.1" fill="#fff" stroke="#1c3a5e" stroke-width="1.75"/><text class="cn" x="1138.8" y="569.9" textLength="29.8" lengthAdjust="spacingAndGlyphs">13</text>
<circle cx="1241.4" cy="593.0" r="23.1" fill="#fff" stroke="#1c3a5e" stroke-width="1.75"/><text class="cn" x="1241.4" y="601.9" textLength="29.8" lengthAdjust="spacingAndGlyphs">10</text>
<circle cx="972.4" cy="656.0" r="23.1" fill="#fff" stroke="#1c3a5e" stroke-width="1.75"/><text class="cn" x="972.4" y="664.9" textLength="29.8" lengthAdjust="spacingAndGlyphs">17</text>
<circle cx="1104.0" cy="692.4" r="23.1" fill="#fff" stroke="#1c3a5e" stroke-width="1.75"/><text class="cn" x="1104.0" y="701.3" textLength="29.8" lengthAdjust="spacingAndGlyphs">14</text>
<circle cx="1192.5" cy="692.6" r="23.1" fill="#fff" stroke="#1c3a5e" stroke-width="1.75"/><text class="cn" x="1192.5" y="701.5" textLength="29.8" lengthAdjust="spacingAndGlyphs">11</text>
<circle cx="1319.0" cy="663.0" r="23.1" fill="#fff" stroke="#1c3a5e" stroke-width="1.75"/><text class="cn" x="1319.0" y="671.9" textLength="14.6" lengthAdjust="spacingAndGlyphs">7</text>
<circle cx="1339.0" cy="328.0" r="23.1" fill="#fff" stroke="#1c3a5e" stroke-width="1.75"/><text class="cn" x="1339.0" y="336.9" textLength="14.6" lengthAdjust="spacingAndGlyphs">6</text>
<circle cx="1432.0" cy="331.0" r="23.1" fill="#fff" stroke="#1c3a5e" stroke-width="1.75"/><text class="cn" x="1432.0" y="339.9" textLength="14.6" lengthAdjust="spacingAndGlyphs">2</text>
<circle cx="1365.0" cy="484.0" r="23.1" fill="#fff" stroke="#1c3a5e" stroke-width="1.75"/><text class="cn" x="1365.0" y="492.9" textLength="14.6" lengthAdjust="spacingAndGlyphs">3</text>
<circle cx="1478.0" cy="514.0" r="23.1" fill="#fff" stroke="#1c3a5e" stroke-width="1.75"/><text class="cn" x="1478.0" y="522.9" textLength="14.6" lengthAdjust="spacingAndGlyphs">1</text>
<circle cx="1378.0" cy="630.4" r="23.8" fill="#fff" stroke="#e8202a" stroke-width="9.5"/><text class="cn" x="1378.0" y="639.3" textLength="14.6" lengthAdjust="spacingAndGlyphs">5</text>
<circle cx="1416.4" cy="697.8" r="23.8" fill="#fff" stroke="#e8202a" stroke-width="9.5"/><text class="cn" x="1416.4" y="706.7" textLength="14.6" lengthAdjust="spacingAndGlyphs">4</text>
</g>
<text transform="translate(552.3,364) rotate(90) scale(0.9,1)" font-size="25" font-weight="700" fill="#155297" textLength="339" lengthAdjust="spacing">MEDITERRANEAN SEA</text>
<text transform="translate(1504.5,387) rotate(90)" font-size="19" fill="#1c3a5e" textLength="52" lengthAdjust="spacingAndGlyphs">KEMER</text>
<text transform="translate(1503.5,571.5) rotate(90)" font-size="19" fill="#1c3a5e" textLength="70" lengthAdjust="spacingAndGlyphs">ANTALYA</text>
<circle cx="1242.5" cy="843.6" r="21.5" fill="#fff" stroke="#e8202a" stroke-width="10.4"/>
<text x="1271.5" y="853.7" font-size="22.5" fill="#1c2e4a" textLength="289" lengthAdjust="spacingAndGlyphs" style="font-family:'DejaVu Sans','Liberation Sans',sans-serif">Standard Economy Rooms</text>
</g>
</svg></body></html>
